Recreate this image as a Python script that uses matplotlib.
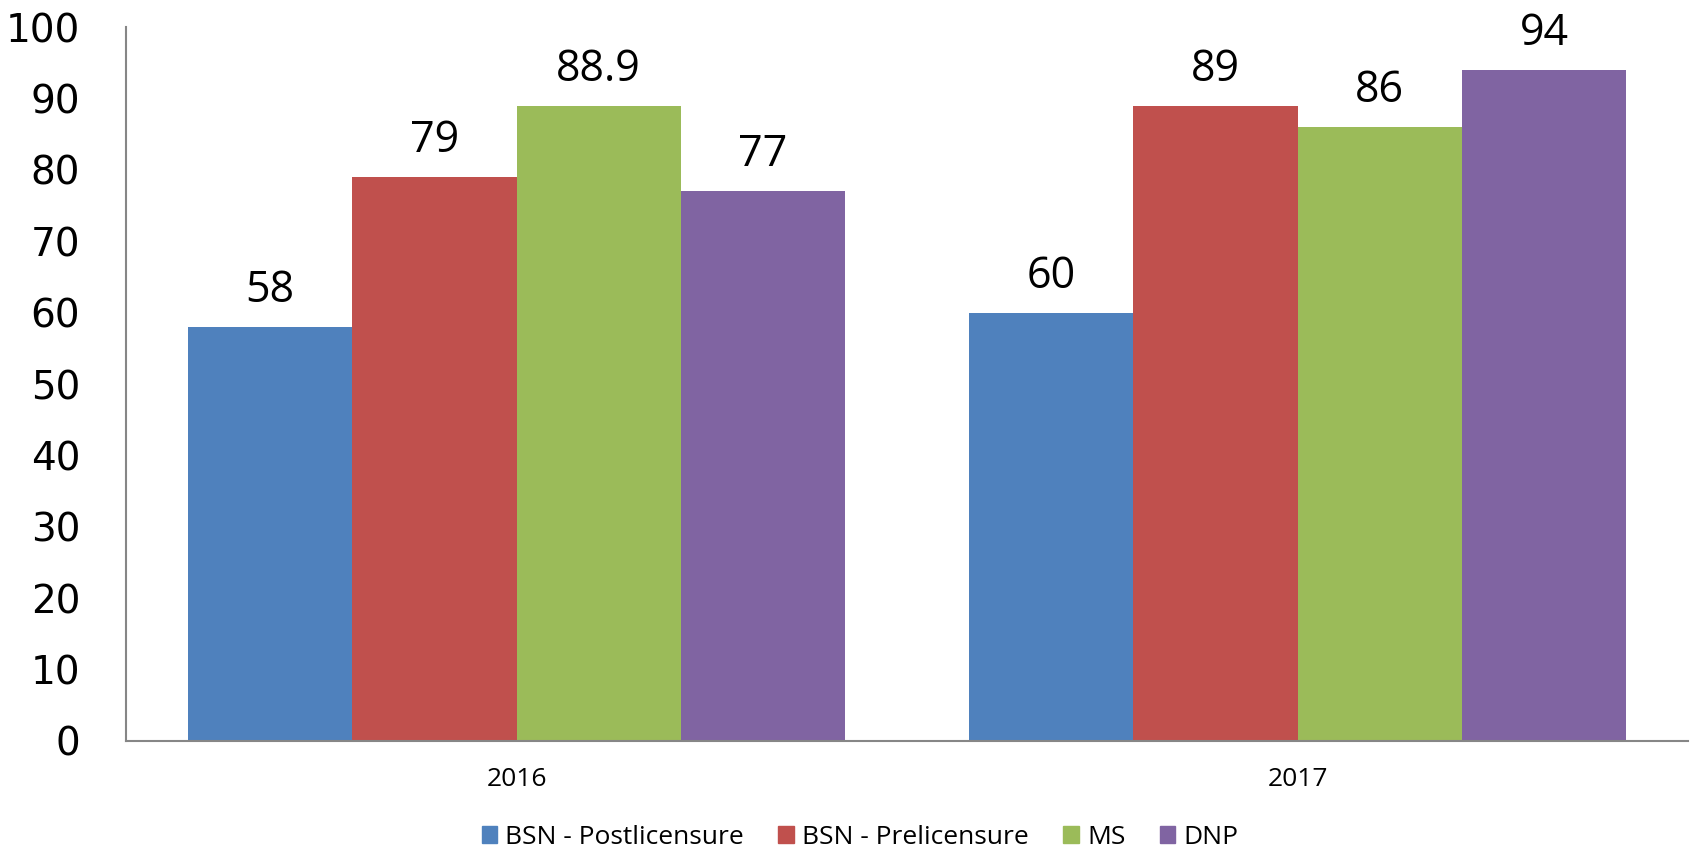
import matplotlib
matplotlib.use("Agg")
import matplotlib.pyplot as plt
from matplotlib.patches import Patch
import numpy as np

categories = ["2016", "2017"]
series_names = ["BSN - Postlicensure", "BSN - Prelicensure", "MS", "DNP"]
bsn_post = [58, 60]
bsn_pre = [79, 89]
ms = [88.9, 86]
dnp = [77, 94]
series_values = [bsn_post, bsn_pre, ms, dnp]
colors = ["#4F81BD", "#C0504D", "#9BBB59", "#8064A2"]

fig = plt.figure(figsize=(16.94, 8.51), dpi=100)
ax = fig.add_axes([126/1694, 1-741/851, (1688-126)/1694, (741-27)/851])

x = np.arange(len(categories))
w = 0.2105
for i, (vals, c) in enumerate(zip(series_values, colors)):
    offs = (i - 1.5) * w
    bars = ax.bar(x + offs, vals, w, color=c, label=series_names[i], linewidth=0)
    labels = [("%g" % v) for v in vals]
    ax.bar_label(bars, labels=labels, padding=10, fontsize=31, family="Open Sans")

ax.set_xlim(-0.5, 1.5)
ax.set_ylim(0, 100)
ax.set_yticks(np.arange(0, 101, 10))
ax.set_xticks(x)
ax.set_xticklabels(categories, family="Open Sans", fontsize=19)
for t in ax.get_yticklabels():
    t.set_fontsize(28)
    t.set_family("DejaVu Sans")
ax.tick_params(axis="y", length=0, pad=33)
ax.tick_params(axis="x", length=0, pad=19)
for s in ["top", "right"]:
    ax.spines[s].set_visible(False)
for s in ["left", "bottom"]:
    ax.spines[s].set_color("#868686")
    ax.spines[s].set_linewidth(1.5)

handles = [Patch(color=c, label=n) for c, n in zip(colors, series_names)]
fig.legend(handles=handles, loc="center", bbox_to_anchor=(860/1694, 1-837/851),
           ncol=4, frameon=False, prop={"family": "Open Sans", "size": 19},
           handlelength=0.6, handleheight=0.6, handletextpad=0.3, columnspacing=1.3)

fig.savefig("out.png", dpi=100)
